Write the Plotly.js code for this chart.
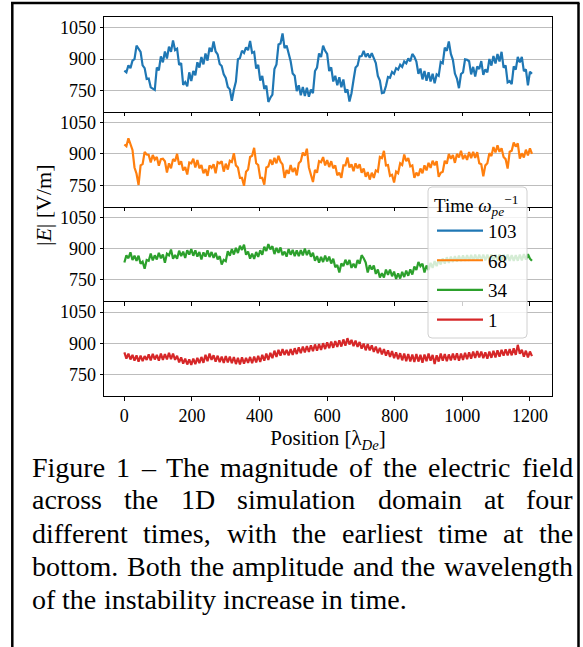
<!DOCTYPE html>
<html><head><meta charset="utf-8">
<script src="https://cdn.plot.ly/plotly-3.0.1.min.js"></script>
<style>html,body{margin:0;padding:0;background:#fff;}#chart{width:583px;height:647px;}</style>
</head><body><div id="chart"></div>
<script>
// ---- data (|E| in V/m, sampled every 6 lambda_De starting at 0) ----
const xStart = 0;
const xStep = 6;
const seriesNames = ['103', '68', '34', '1'];
const seriesColors = ['#1f77b4', '#ff7f0e', '#2ca02c', '#d62728'];

const e103 = [
 845,837,870,857,893,900,965,947,935,870,
 857,805,807,765,757,753,860,847,913,885,
 937,903,960,935,990,943,950,873,881,777,
 790,770,837,795,843,823,885,860,910,875,
 927,893,955,935,985,937,923,877,867,827,
 810,767,755,700,753,793,900,905,940,930,
 957,943,987,930,935,855,873,797,820,757,
 773,695,715,730,853,875,970,975,1023,953,
 965,923,890,831,820,747,775,727,767,723,
 763,720,755,737,843,860,927,910,965,940,
 925,843,861,793,820,775,813,765,803,740,
 755,697,737,800,860,870,913,915,940,911,
 927,907,929,905,881,820,797,737,740,771,
 815,811,839,830,857,850,873,863,889,880,
 903,890,925,911,889,830,855,803,843,797,
 837,793,830,785,827,820,887,880,955,940,
 985,925,897,831,807,761,829,837,899,897,
 890,827,863,817,865,853,891,825,851,837,
 901,869,915,879,925,889,935,859,870,789,
 795,780,865,850,911,885,911,843,851,775,
 840,830];

const e68 = [
 945,937,975,943,919,835,805,751,845,851,
 909,897,895,859,895,873,885,843,875,877,
 865,811,855,831,875,865,900,848,865,821,
 837,801,859,855,877,835,871,831,847,807,
 827,795,845,833,850,807,860,855,865,815,
 853,825,867,861,903,845,835,785,785,747,
 815,825,885,891,929,855,847,785,785,753,
 835,840,873,848,881,855,891,863,850,785,
 823,805,847,813,833,797,855,865,907,891,
 925,835,800,765,823,810,865,860,885,845,
 870,837,865,831,845,797,810,785,845,845,
 883,835,850,817,855,831,850,810,830,790,
 813,777,810,785,821,815,885,880,915,845,
 847,795,800,763,815,807,855,847,897,865,
 880,840,845,785,810,795,830,807,845,821,
 857,833,867,845,865,790,810,815,867,853,
 900,877,895,857,900,883,915,875,895,871,
 909,880,910,881,908,855,850,793,845,855,
 903,890,933,907,941,910,927,885,875,830,
 910,915,955,935,950,877,903,883,920,893,
 927,900];

const e34 = [
 834,868,854,882,846,866,842,866,828,838,
 804,846,842,876,844,868,848,880,854,872,
 832,876,868,896,852,869,852,890,864,886,
 856,892,872,898,866,892,862,884,848,882,
 862,892,860,884,856,880,848,864,824,846,
 840,888,866,898,872,904,879,914,894,919,
 871,886,852,876,851,884,861,892,871,909,
 889,922,896,912,874,904,880,906,868,886,
 862,898,871,894,864,892,864,893,868,900,
 869,893,861,880,842,864,833,861,836,867,
 839,862,829,852,811,822,786,829,816,847,
 822,846,808,828,808,846,828,869,854,834,
 786,820,800,819,779,800,762,782,762,800,
 775,800,768,790,755,782,757,789,764,795,
 770,801,776,814,798,836,816,828,786,819,
 798,832,808,840,816,848,824,854,828,859,
 832,862,836,864,838,867,840,868,841,869,
 842,870,843,871,844,872,844,872,844,872,
 844,872,844,872,844,872,844,872,844,872,
 841,869,841,869,842,871,844,874,848,874,
 852,842];

const e1 = [
 857,827,851,823,845,817,843,813,841,815,
 839,821,847,819,850,823,845,817,851,821,
 849,823,855,825,851,821,841,809,833,803,
 827,799,823,797,827,801,831,805,835,807,
 845,815,851,821,843,813,841,810,837,807,
 839,809,837,805,835,801,831,799,833,803,
 831,807,835,805,837,809,841,811,845,817,
 851,821,855,829,865,835,869,841,873,845,
 869,843,873,845,877,849,881,853,885,857,
 887,859,891,863,895,865,897,869,901,873,
 905,877,909,879,911,883,915,885,919,889,
 925,895,917,887,913,883,907,875,899,867,
 897,867,891,859,885,853,879,847,873,841,
 867,835,863,829,857,825,853,819,851,815,
 849,813,847,811,849,813,845,807,847,815,
 851,817,845,801,843,813,851,817,849,815,
 847,819,851,821,853,817,851,821,855,825,
 857,827,861,831,863,833,861,829,857,827,
 861,831,865,833,867,837,869,841,871,843,
 873,843,877,845,893,851,869,837,865,833,
 861,839];

const yTickVals = [750, 900, 1050];
const xTickVals = [0, 200, 400, 600, 800, 1000, 1200];
const yTitle = '|<i>E</i>| [V/m]';
const xTitle = 'Position [λ<sub><i>De</i></sub>]';
const legendTitle = 'Time <i>ω</i><sub><i>pe</i></sub><sup>−1</sup>';
const captionLines = [
 'Figure 1 – The magnitude of the electric field',
 'across the 1D simulation domain at four',
 'different times, with the earliest time at the',
 'bottom. Both the amplitude and the wavelength',
 'of the instability increase in time.'
];

// ---- layout helpers ----
const W = 583, H = 647;
const M = {l: 104, r: 31, t: 17, b: 251};
const PW = W - M.l - M.r, PH = H - M.t - M.b;
const px2x = p => (p - M.l) / PW;
const py2y = p => (H - M.b - p) / PH;
const SERIF = 'Liberation Serif, Times New Roman, serif';

const allSeries = [e103, e68, e34, e1];
const traces = allSeries.map((arr, k) => ({
  type: 'scatter', mode: 'lines',
  x0: xStart, dx: xStep, y: arr,
  name: seriesNames[k], legendgroup: 'g' + k,
  xaxis: 'x' + (k + 1), yaxis: 'y' + (k + 1),
  line: {color: seriesColors[k], width: 2.2},
  hoverinfo: 'skip'
}));

const layout = {
  width: W, height: H, margin: M,
  paper_bgcolor: '#fff', plot_bgcolor: '#fff',
  showlegend: true,
  font: {family: SERIF, color: '#000', size: 18},
  legend: {
    x: px2x(432), y: py2y(187), xanchor: 'left', yanchor: 'top',
    bgcolor: 'rgba(0,0,0,0)', borderwidth: 0,
    font: {family: SERIF, size: 19, color: '#000'},
    title: {text: legendTitle, font: {family: SERIF, size: 19, color: '#000'}},
    tracegroupgap: 2, itemwidth: 46
  },
  annotations: [], shapes: []
};

for (let k = 0; k < 4; k++) {
  const sfx = k === 0 ? '' : String(k + 1);
  layout['xaxis' + sfx] = {
    domain: [0, 1], anchor: 'y' + sfx, matches: k === 0 ? undefined : 'x',
    range: [-60.25, 1265.25], tickmode: 'array', tickvals: xTickVals,
    ticks: 'outside', ticklen: 3.5, tickwidth: 1, tickcolor: '#000',
    showline: true, linecolor: '#000', linewidth: 1, mirror: k === 0,
    showgrid: false, zeroline: false, showticklabels: k === 3,
    tickfont: {family: SERIF, size: 18, color: '#000'}
  };
  layout['yaxis' + sfx] = {
    domain: [0.75 - 0.25 * k, 1 - 0.25 * k], anchor: 'x' + sfx,
    range: [648, 1102], tickmode: 'array', tickvals: yTickVals,
    ticks: 'outside', ticklen: 3.5, tickwidth: 1, tickcolor: '#000',
    showline: true, linecolor: '#000', linewidth: 1, mirror: true,
    showgrid: true, gridcolor: '#bdbdbd', gridwidth: 1, zeroline: false,
    tickfont: {family: SERIF, size: 18, color: '#000'}
  };
}
layout.xaxis4.title = {text: xTitle, font: {family: SERIF, size: 21, color: '#000'}, standoff: 3};

// y title
layout.annotations.push({
  text: yTitle, textangle: -90, xref: 'paper', yref: 'paper',
  x: px2x(43), y: py2y(205), xanchor: 'center', yanchor: 'middle',
  showarrow: false, font: {family: SERIF, size: 22, color: '#000'}
});

// legend frame with rounded corners
(function () {
  const x0 = px2x(428), x1 = px2x(527), y0 = py2y(338), y1 = py2y(187);
  const rx = 4 / PW, ry = 4 / PH;
  const path = `M${x0 + rx},${y1} L${x1 - rx},${y1} Q${x1},${y1} ${x1},${y1 - ry} ` +
    `L${x1},${y0 + ry} Q${x1},${y0} ${x1 - rx},${y0} L${x0 + rx},${y0} ` +
    `Q${x0},${y0} ${x0},${y0 + ry} L${x0},${y1 - ry} Q${x0},${y1} ${x0 + rx},${y1} Z`;
  layout.shapes.push({type: 'path', xref: 'paper', yref: 'paper', path: path,
    fillcolor: 'rgba(255,255,255,0.8)', line: {color: '#d0d0d0', width: 1}, layer: 'above'});
})();

// page frame lines
const frame = [[12.3, 3, 12.3, 660], [11, 3, 579.5, 3], [578.5, 3, 578.5, 660]];
frame.forEach(f => layout.shapes.push({type: 'line', xref: 'paper', yref: 'paper',
  x0: px2x(f[0]), y0: py2y(f[1]), x1: px2x(f[2]), y1: py2y(f[3]),
  line: {color: '#000', width: 2.5}, layer: 'above'}));

// justified caption
(function () {
  const ctx = document.createElement('canvas').getContext('2d');
  const size = 28;
  ctx.font = size + 'px "Liberation Serif"';
  const left = 31, right = 572, top = 467, lh = 33;
  captionLines.forEach((line, li) => {
    const words = line.split(' ');
    const widths = words.map(w => ctx.measureText(w).width);
    const total = widths.reduce((a, b) => a + b, 0);
    const last = li === captionLines.length - 1;
    const gap = last ? ctx.measureText(' ').width : (right - left - total) / (words.length - 1);
    let x = left;
    words.forEach((w, i) => {
      layout.annotations.push({text: w, xref: 'paper', yref: 'paper',
        x: px2x(x), y: py2y(top + li * lh), xanchor: 'left', yanchor: 'middle',
        showarrow: false, borderpad: 0,
        font: {family: 'Liberation Serif', size: size, color: '#000'}});
      x += widths[i] + gap;
    });
  });
})();

Plotly.newPlot('chart', traces, layout, {staticPlot: true, displayModeBar: false});
</script></body></html>
